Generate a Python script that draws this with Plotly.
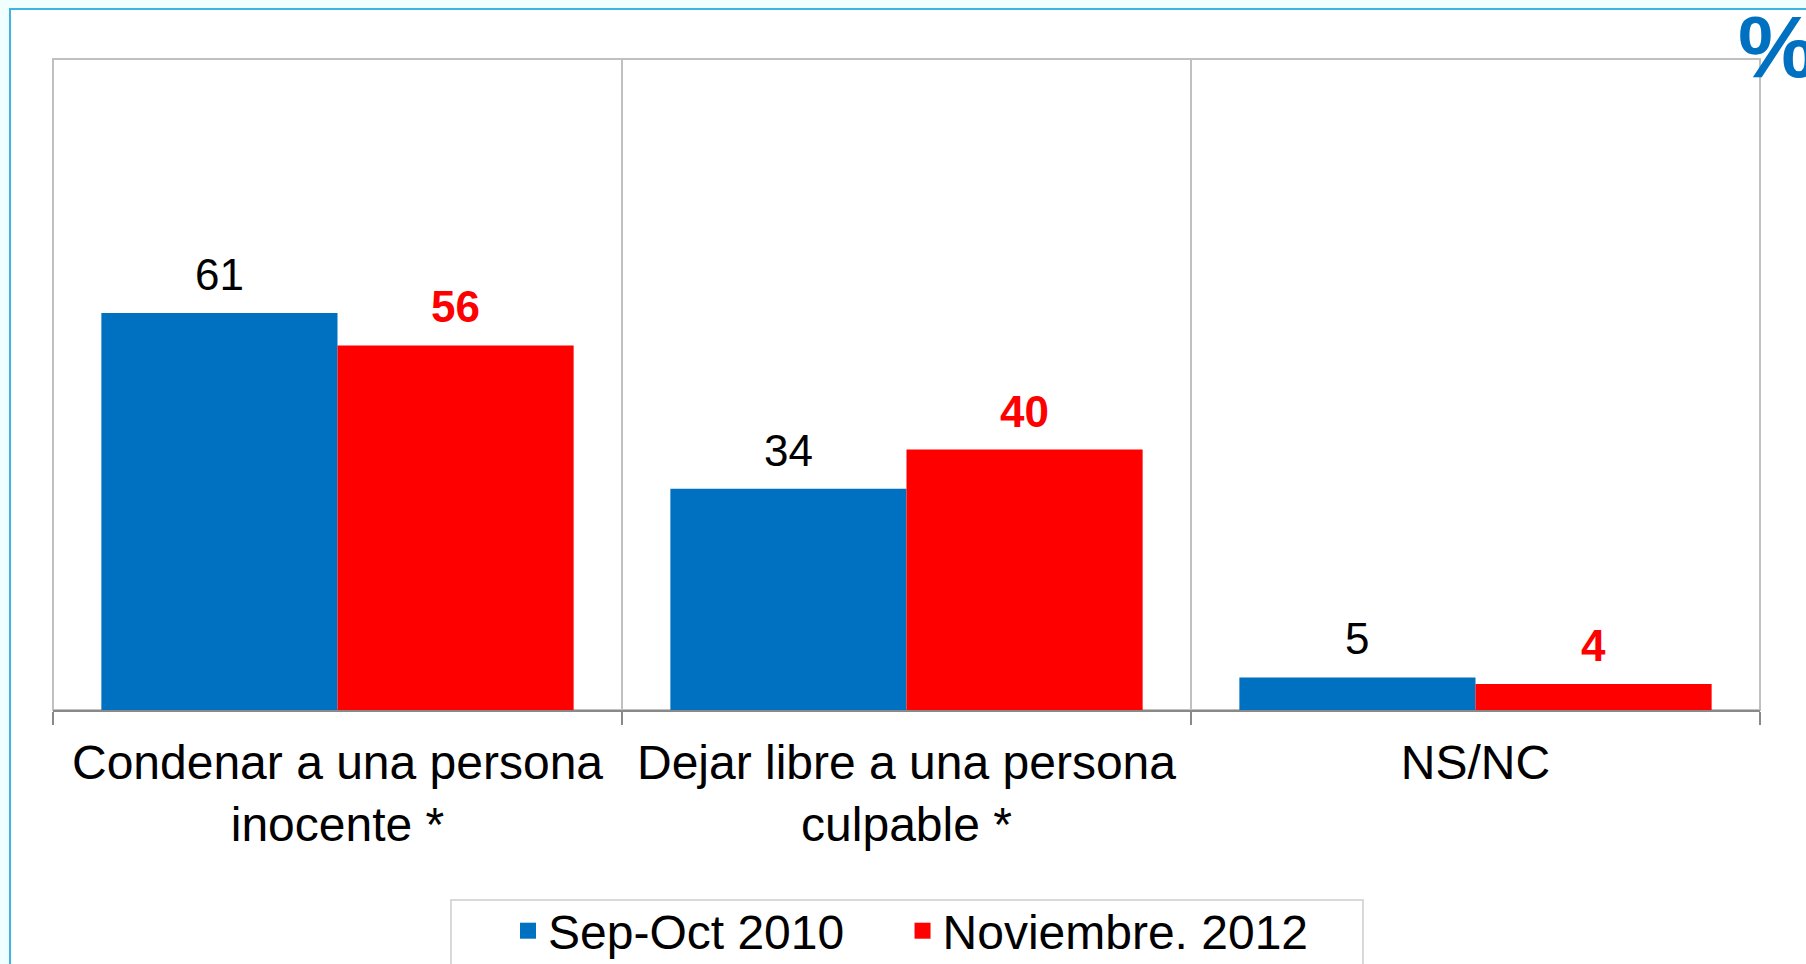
import plotly.graph_objects as go

categories = ["Condenar a una persona<br>inocente *", "Dejar libre a una persona<br>culpable *", "NS/NC"]
series_names = ["Sep-Oct 2010", "Noviembre. 2012"]
values_2010 = [61, 34, 5]
values_2012 = [56, 40, 4]

BLUE = "#0070C0"
RED = "#FF0000"
FONT = "Liberation Sans, Arial, sans-serif"

W, H = 1806, 964
ML, MR, MT, MB = 53, 46, 59, 254
PW = W - ML - MR
PH = H - MT - MB


def px_x(p):
    return (p - ML) / PW


def px_y(p):
    return (H - MB - p) / PH


BARGAP = 0.17
bar_w = (1 - BARGAP) * PW / len(categories) / 2

fig = go.Figure()
fig.add_trace(go.Bar(x=categories, y=values_2010, name=series_names[0], showlegend=False,
                     marker=dict(color=BLUE, line=dict(width=0))))
fig.add_trace(go.Bar(x=categories, y=values_2012, name=series_names[1], showlegend=False,
                     marker=dict(color=RED, line=dict(width=0))))
# legend entries with bigger square swatches (nbsp padding widens the gap between items)
legend_labels = [series_names[0] + "\u00a0" * 4, series_names[1]]
for name, color in zip(legend_labels, [BLUE, RED]):
    fig.add_trace(go.Scatter(x=[None], y=[None], mode="markers", name=name,
                             marker=dict(symbol="square", size=16, color=color)))

# data labels
annotations = []
for vals, shift, color, weight in [(values_2010, -bar_w / 2, "black", "normal"),
                                   (values_2012, bar_w / 2, RED, "bold")]:
    for c, v in zip(categories, vals):
        annotations.append(dict(x=c, y=v, xref="x", yref="y", text=str(v), showarrow=False,
                                xshift=shift, yanchor="bottom", yshift=12,
                                font=dict(family=FONT, size=44, color=color, weight=weight)))

annotations.append(dict(x=px_x(1736), y=px_y(46), xref="paper", yref="paper", text="%",
                        showarrow=False, xanchor="left", yanchor="middle",
                        font=dict(family=FONT, size=88, color=BLUE, weight="bold")))

shapes = [
    # outer slide frame
    dict(type="rect", xref="paper", yref="paper", layer="below",
         x0=px_x(10), x1=px_x(1840), y0=px_y(1000), y1=px_y(9),
         fillcolor="white", line=dict(color="#3DB5E0", width=2)),
    # plot area frame
    dict(type="rect", xref="paper", yref="paper", layer="below",
         x0=0, x1=1, y0=0, y1=1, line=dict(color="#C0C0C0", width=2)),
    # legend box
    dict(type="rect", xref="paper", yref="paper", layer="below",
         x0=px_x(451), x1=px_x(1363), y0=px_y(1000), y1=px_y(900),
         fillcolor="white", line=dict(color="#D9D9D9", width=2)),
]

fig.update_layout(
    width=W, height=H,
    margin=dict(l=ML, r=MR, t=MT, b=MB),
    paper_bgcolor="#F0FFFF", plot_bgcolor="white",
    barmode="group", bargap=BARGAP, bargroupgap=0,
    font=dict(family=FONT, color="black"),
    showlegend=True,
    legend=dict(orientation="h", xref="container", yref="container",
                x=508 / W, xanchor="left", y=1 - 893 / H, yanchor="top",
                font=dict(family=FONT, size=48, color="black"),
                bgcolor="rgba(0,0,0,0)", borderwidth=0),
    annotations=annotations,
    shapes=shapes,
)
fig.update_xaxes(showline=True, linecolor="#898989", linewidth=2,
                 ticks="outside", ticklen=13, tickwidth=2, tickcolor="#898989",
                 tickson="boundaries", showgrid=True, gridcolor="#C0C0C0", gridwidth=2,
                 ticklabelstandoff=9,
                 tickfont=dict(family=FONT, size=48, color="black"))
fig.update_yaxes(range=[0, 100], showticklabels=False, showgrid=False, zeroline=False,
                 showline=False)

fig.write_html("out.html", config={"displayModeBar": False},
               post_script="document.body.style.margin='0';document.body.style.background='#F0FFFF';")
